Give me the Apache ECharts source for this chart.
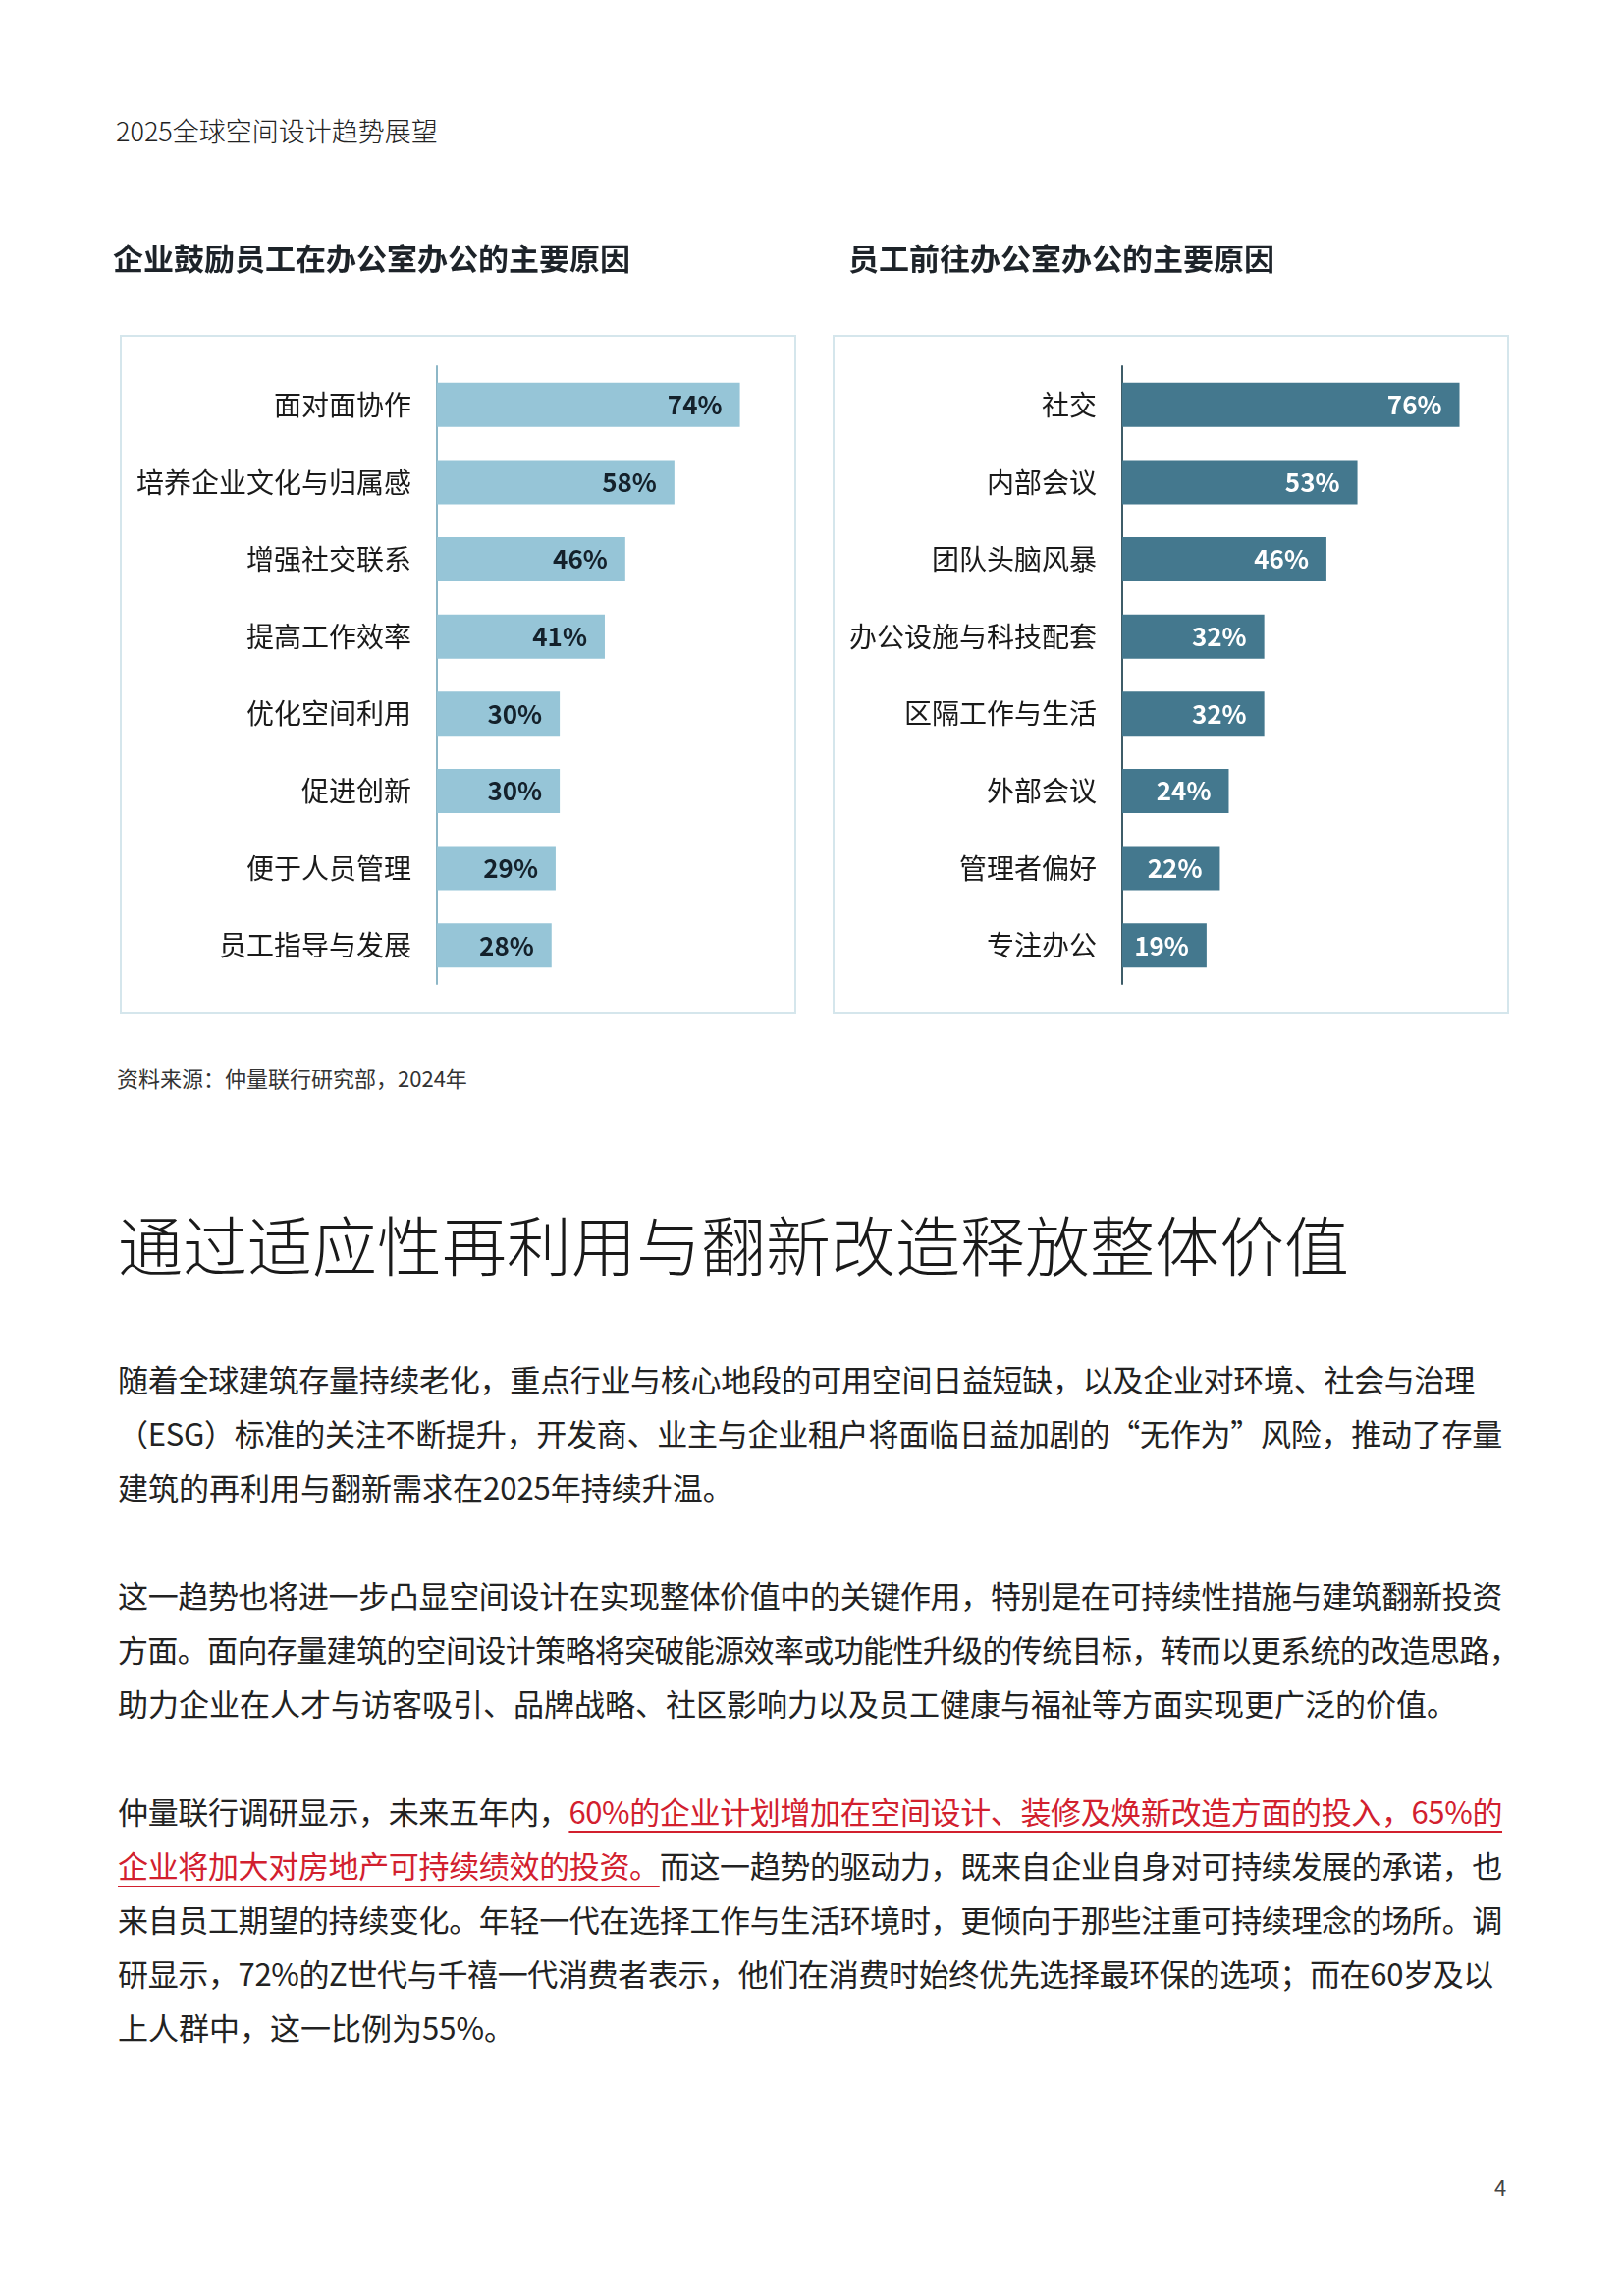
<!DOCTYPE html>
<html lang="zh">
<head>
<meta charset="UTF-8">
<title>2025全球空间设计趋势展望</title>
<script type="text/javascript" src="https://cdn.jsdelivr.net/npm/echarts/dist/echarts.min.js"></script>
<style>
    html, body { margin: 0; padding: 0; background: #fff; }
    body { width: 1652px; height: 2338px; position: relative; overflow: hidden;
           font-family: "Noto Sans CJK SC", "Noto Sans", sans-serif; color: #222; }
    #header { position: absolute; left: 118px; top: 114px; font-size: 27px; font-weight: 300; line-height: 38px; }
    #chart { position: absolute; left: 0; top: 0; width: 1652px; height: 1060px; }
    #source { position: absolute; left: 119px; top: 1082px; font-size: 22px; line-height: 30px; color: #333; }
    #heading { position: absolute; left: 120px; top: 1223px; font-size: 66px; font-weight: 300; line-height: 84px; color: #1a1a1a; }
    #body { position: absolute; left: 120px; top: 1376px; font-size: 31px; line-height: 55px; }
    #body .ln { display: block; width: max-content; white-space: nowrap; height: 55px; }
    #body .gap { height: 55px; }
    .red { color: #d2202e; text-decoration: underline; text-decoration-color: #d2202e;
           text-decoration-thickness: 2px; text-underline-offset: 8px; }
    #page { position: absolute; left: 1522px; top: 2211px; font-size: 22px; line-height: 30px; color: #444; }
</style>
</head>
<body>
    <div id="header">2025全球空间设计趋势展望</div>
    <div id="chart"></div>
    <div id="source">资料来源：仲量联行研究部，2024年</div>
    <div id="heading">通过适应性再利用与翻新改造释放整体价值</div>
    <div id="body">
        <div class="ln" data-w="1382">随着全球建筑存量持续老化，重点行业与核心地段的可用空间日益短缺，以及企业对环境、社会与治理</div>
        <div class="ln" data-w="1410">（ESG）标准的关注不断提升，开发商、业主与企业租户将面临日益加剧的“无作为”风险，推动了存量</div>
        <div class="ln">建筑的再利用与翻新需求在2025年持续升温。</div>
        <div class="gap"></div>
        <div class="ln" data-w="1410">这一趋势也将进一步凸显空间设计在实现整体价值中的关键作用，特别是在可持续性措施与建筑翻新投资</div>
        <div class="ln" data-w="1427">方面。面向存量建筑的空间设计策略将突破能源效率或功能性升级的传统目标，转而以更系统的改造思路，</div>
        <div class="ln">助力企业在人才与访客吸引、品牌战略、社区影响力以及员工健康与福祉等方面实现更广泛的价值。</div>
        <div class="gap"></div>
        <div class="ln" data-w="1410">仲量联行调研显示，未来五年内，<span class="red">60%的企业计划增加在空间设计、装修及焕新改造方面的投入，65%的</span></div>
        <div class="ln" data-w="1410"><span class="red">企业将加大对房地产可持续绩效的投资。</span>而这一趋势的驱动力，既来自企业自身对可持续发展的承诺，也</div>
        <div class="ln" data-w="1410">来自员工期望的持续变化。年轻一代在选择工作与生活环境时，更倾向于那些注重可持续理念的场所。调</div>
        <div class="ln" data-w="1401">研显示，72%的Z世代与千禧一代消费者表示，他们在消费时始终优先选择最环保的选项；而在60岁及以</div>
        <div class="ln">上人群中，这一比例为55%。</div>
    </div>
    <div id="page">4</div>

    <script type="text/javascript">
        // 左图：企业鼓励员工在办公室办公的主要原因
        var reasonsCompany = ['面对面协作', '培养企业文化与归属感', '增强社交联系', '提高工作效率',
                              '优化空间利用', '促进创新', '便于人员管理', '员工指导与发展'];
        var valuesCompany = [74, 58, 46, 41, 30, 30, 29, 28];

        // 右图：员工前往办公室办公的主要原因
        var reasonsStaff = ['社交', '内部会议', '团队头脑风暴', '办公设施与科技配套',
                            '区隔工作与生活', '外部会议', '管理者偏好', '专注办公'];
        var valuesStaff = [76, 53, 46, 32, 32, 24, 22, 19];

        var fontCJK = '"Noto Sans CJK SC", "Noto Sans", sans-serif';

        // 每行文字撑到原排版的宽度
        document.querySelectorAll('#body .ln[data-w]').forEach(function (el) {
            var target = +el.getAttribute('data-w');
            var n = Array.from(el.textContent).length;
            var natural = el.getBoundingClientRect().width;
            el.style.letterSpacing = ((target - natural) / n) + 'px';
        });

        function titleOf(text, left) {
            return {
                text: text, left: left, top: 248, padding: 0,
                textStyle: { fontSize: 31, fontWeight: 'bold', color: '#1d2329', fontFamily: fontCJK }
            };
        }

        function boxOf(x) {
            return {
                type: 'rect', silent: true,
                shape: { x: x, y: 342, width: 687, height: 690 },
                style: { fill: 'none', stroke: '#d5e6ec', lineWidth: 2 }
            };
        }

        function yAxisOf(idx, cats, lineColor) {
            return {
                gridIndex: idx, type: 'category', data: cats, inverse: true,
                axisTick: { show: false },
                axisLine: { lineStyle: { color: lineColor, width: 2 } },
                axisLabel: { fontSize: 28, color: '#1a1a1a', margin: 26, fontFamily: fontCJK }
            };
        }

        function barsOf(idx, vals, barColor, labelColor) {
            return {
                type: 'bar', xAxisIndex: idx, yAxisIndex: idx, data: vals,
                barWidth: 45,
                itemStyle: { color: barColor },
                label: {
                    show: true, position: 'insideRight', distance: 18,
                    formatter: '{c}%', fontSize: 26, fontWeight: 'bold',
                    color: labelColor, fontFamily: fontCJK
                }
            };
        }

        var dom = document.getElementById('chart');
        var myChart = echarts.init(dom);
        var option = {
            animation: false,
            title: [
                titleOf('企业鼓励员工在办公室办公的主要原因', 115),
                titleOf('员工前往办公室办公的主要原因', 864)
            ],
            graphic: [boxOf(123), boxOf(849)],
            grid: [
                { left: 445, top: 373, width: 417, height: 629 },
                { left: 1143, top: 373, width: 452, height: 629 }
            ],
            xAxis: [
                { gridIndex: 0, type: 'value', min: 0, max: 100, show: false },
                { gridIndex: 1, type: 'value', min: 0, max: 100, show: false }
            ],
            yAxis: [
                yAxisOf(0, reasonsCompany, '#8db7c7'),
                yAxisOf(1, reasonsStaff, '#3e5c68')
            ],
            series: [
                barsOf(0, valuesCompany, '#96c5d7', '#14212b'),
                barsOf(1, valuesStaff, '#44788e', '#ffffff')
            ]
        };
        myChart.setOption(option);
    </script>
</body>
</html>
